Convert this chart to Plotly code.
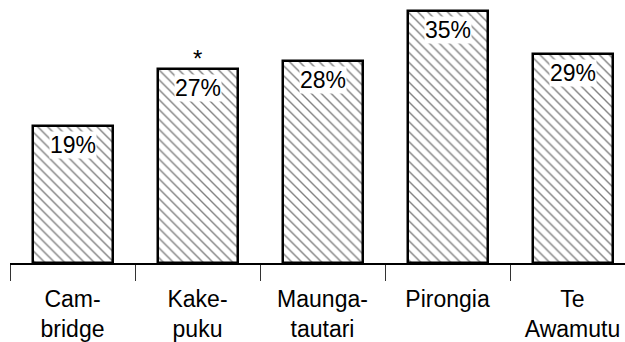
import plotly.graph_objects as go

# Share of respondents by area (%)
towns = ["Cambridge", "Kakepuku", "Maungatautari", "Pirongia", "Te Awamutu"]
tick_text = ["Cam-<br>bridge", "Kake-<br>puku", "Maunga-<br>tautari", "Pirongia", "Te<br>Awamutu"]
share = [19, 27, 28, 35, 29]
flagged = ["", "*", "", "", ""]

FONT = "Liberation Sans, Arial, Helvetica, sans-serif"

fig = go.Figure()
fig.add_trace(go.Bar(
    x=towns,
    y=share,
    width=0.64,
    marker=dict(
        color="white",
        line=dict(color="black", width=2.5),
        pattern=dict(shape="\\", size=7, solidity=0.2, fgcolor="black", bgcolor="white"),
    ),
    hoverinfo="skip",
))

for town, v, flag in zip(towns, share, flagged):
    fig.add_annotation(
        x=town, y=v, text=f"{v}%", showarrow=False,
        yanchor="top", yshift=-5,
        font=dict(family=FONT, size=23, color="black"),
        bgcolor="white", borderpad=0,
    )
    if flag:
        fig.add_annotation(
            x=town, y=v, text=flag, showarrow=False,
            yanchor="bottom", yshift=-5,
            font=dict(family=FONT, size=24, color="black"),
        )

fig.update_layout(
    width=625, height=342,
    margin=dict(l=10, r=0, t=0, b=79),
    paper_bgcolor="white", plot_bgcolor="white",
    showlegend=False,
    bargap=0,
    font=dict(family=FONT, size=23, color="black"),
)
fig.update_xaxes(
    type="category",
    range=[-0.5, 4.42],
    tickmode="array", tickvals=towns, ticktext=tick_text,
    tickson="boundaries", ticks="outside", ticklen=16, tickwidth=1, tickcolor="#333",
    ticklabelstandoff=14,
    showline=True, linecolor="black", linewidth=2,
    showgrid=False, zeroline=False,
    tickfont=dict(family=FONT, size=23, color="black"),
)
fig.update_yaxes(range=[0, 36.53], visible=False, showgrid=False, zeroline=False)

fig.write_html("out.html")
